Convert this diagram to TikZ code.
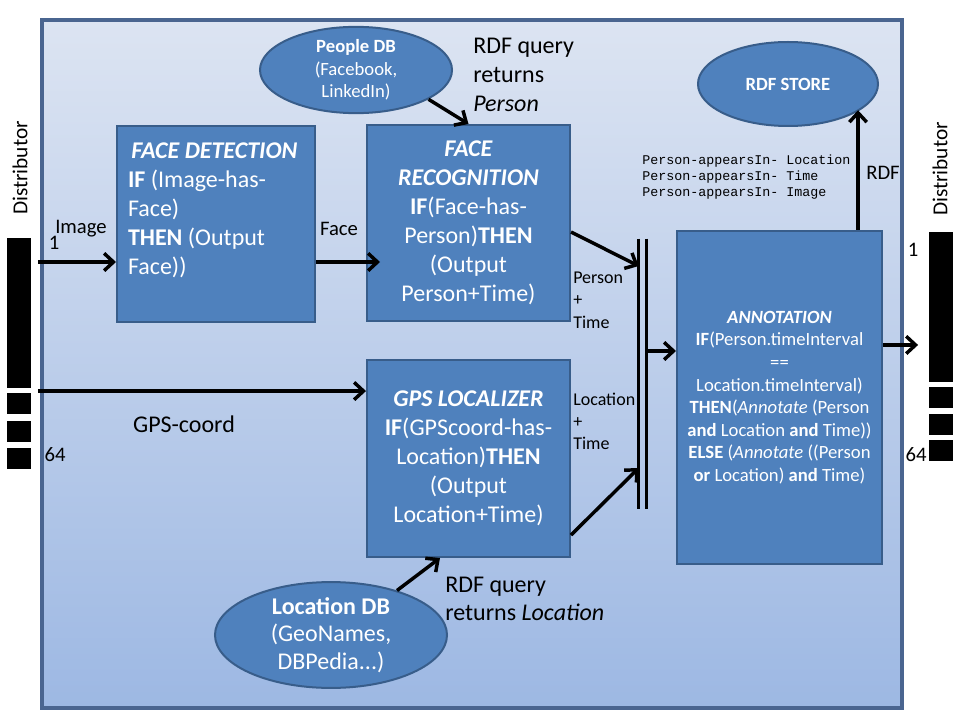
\documentclass[tikz,border=0pt]{standalone}
\usepackage{fontspec}
\setmainfont{Carlito}
\setmonofont{Liberation Mono}
\usepackage{tikz}
\usetikzlibrary{arrows.meta, shapes.geometric, positioning, calc}
\usepackage{xcolor}
\definecolor{jpanel}{HTML}{4A6590}
\definecolor{jpaneltop}{HTML}{DCE4F2}
\definecolor{jpanelbot}{HTML}{9DB8E3}
\definecolor{jbox}{HTML}{4F81BD}
\definecolor{jboxline}{HTML}{385D8A}
\tikzset{
procbox/.style = {%
    rectangle, fill=jbox, draw=jboxline, line width=1.5pt,
    inner sep=0pt, text=white, align=center,
    font=\fontsize{18}{21.75}\selectfont},
dbnode/.style = {%
    ellipse, fill=jbox, draw=jboxline, line width=1.5pt,
    inner sep=0pt, text=white, align=center},
bar/.style = {%
    rectangle, fill=black, inner sep=0pt, minimum width=18pt},
lbl/.style = {inner sep=0pt, font=\fontsize{15.5}{18}\selectfont}
}

\begin{document}
\begin{tikzpicture}[x=0.75pt, y=-0.75pt,
        flow/.style = {draw, line width=2.6pt, -{Straight Barb[length=7pt,width=13pt]}}
    ]
        % Page and background panel
        \useasboundingbox (0,0) rectangle (960,720);
        \fill[white] (0,0) rectangle (960,720);
        \draw[jpanel, line width=2.5pt, top color=jpaneltop, bottom color=jpanelbot]
            (42,20) rectangle (902,708);

        % Distributors (left and right)
        \node[bar, minimum height=112.5pt] (distL) at (19,313) {};
        \foreach \y/\n in {403/1, 431/2, 458/3}
            \node[bar, minimum height=15.75pt] (distL\n) at (19,\y) {};
        \node[bar, minimum height=112.5pt] (distR) at (941,307) {};
        \foreach \y/\n in {397/1, 424/2, 450/3}
            \node[bar, minimum height=15.75pt] (distR\n) at (941,\y) {};
        \node[lbl, rotate=90, font=\fontsize{16}{19}\selectfont] (distLlbl) at (20,168) {Distributor};
        \node[lbl, rotate=90, font=\fontsize{16}{19}\selectfont] (distRlbl) at (940,169) {Distributor};

        % Processing boxes
        \node[procbox, minimum width=148.5pt, minimum height=147pt] (fd) at (216,224) {};
        \node[procbox, draw=none, fill=none, align=flush left, text width=132pt] (fdtext)
            at ([yshift=10.5pt]fd.center)
            {\hfil\textbf{\textit{FACE DETECTION}}\hfil\\
             \textbf{IF} (Image-has-\\Face)\\\textbf{THEN} (Output\\Face))};
        \node[procbox, minimum width=152.25pt, minimum height=147pt] (fr) at (468.5,223)
            {\textbf{\textit{FACE}}\\\textbf{\textit{RECOGNITION}}\\\textbf{IF}(Face-has-\\
             Person)\textbf{THEN}\\(Output\\Person+Time)};
        \node[procbox, minimum width=152.25pt, minimum height=147.75pt] (gps) at (468.5,458.5)
            {\textbf{\textit{GPS LOCALIZER}}\\\textbf{IF}(GPScoord-has-\\
             Location)\textbf{THEN}\\(Output\\Location+Time)};
        \node[procbox, minimum width=153.75pt, minimum height=249.75pt,
              font=\fontsize{14}{16.9}\selectfont] (ann) at (779.5,397.5)
            {\textbf{\textit{ANNOTATION}}\\\textbf{IF}(Person.timeInterval\\==\\
             Location.timeInterval)\\\textbf{THEN}(\textit{Annotate} (Person\\
             \textbf{and} Location \textbf{and} Time))\\\textbf{ELSE} (\textit{Annotate} ((Person\\
             \textbf{or} Location) \textbf{and} Time)};

        % Databases
        \node[dbnode, minimum width=144pt, minimum height=64.5pt,
              font=\fontsize{14}{17}\selectfont] (people) at (356,70)
            {\textbf{People DB}\\(Facebook,\\LinkedIn)};
        \node[dbnode, minimum width=135pt, minimum height=63pt,
              font=\bfseries\fontsize{14}{17}\selectfont] (rdf) at (788,84) {RDF STORE};
        \node[dbnode, minimum width=174pt, minimum height=72pt,
              font=\fontsize{18}{20.5}\selectfont] (locdb) at (331,635)
            {\textbf{Location DB}\\(GeoNames,\\DBPedia...)};

        % Merge bar
        \node[minimum width=5.25pt, minimum height=202.5pt, inner sep=0pt] (mrg) at (642.5,374) {};
        \draw[line width=2.6pt] (mrg.north west) -- (mrg.south west);
        \draw[line width=2.6pt] (mrg.north east) -- (mrg.south east);

        % Labels
        \node[lbl] (imglbl) at (81,229) {Image};
        \node[lbl] (onel)   at (54,243) {1};
        \node[lbl] (sixtyl) at (55,455) {64};
        \node[lbl, font=\fontsize{18}{21}\selectfont] (gpslbl) at (184,424) {GPS-coord};
        \node[lbl] (facelbl) at (339,229) {Face};
        \node[lbl, anchor=west, align=flush left, font=\fontsize{13.5}{16.9}\selectfont] (perslbl)
            at (573,300) {Person\\+\\Time};
        \node[lbl, anchor=west, align=flush left, font=\fontsize{13.5}{16.5}\selectfont] (loclbl)
            at (573,421) {Location\\+\\Time};
        \node[lbl, anchor=west, align=flush left, font=\fontsize{18}{21.5}\selectfont] (qpers)
            at (473,75) {RDF query\\returns\\\textit{Person}};
        \node[lbl, anchor=west, align=flush left, font=\fontsize{18}{21}\selectfont] (qloc)
            at (445,599) {RDF query\\returns \textit{Location}};
        \node[lbl, anchor=west, align=flush left, font=\ttfamily\fontsize{10}{12}\selectfont] (triples)
            at (642,177) {Person-appearsIn- Location\\Person-appearsIn- Time\\Person-appearsIn- Image};
        \node[lbl] (rdflbl) at (883,173) {RDF};
        \node[lbl] (oner)   at (913,250) {1};
        \node[lbl] (sixtyr) at (916,455) {64};

        % Connectors
        \coordinate (fdin) at ([yshift=-28.5pt]fd.west);
        \draw[flow, shorten <=5pt] (fdin -| distL.east) -- (fdin);
        \coordinate (frin) at ($(fdin -| fr.west)+(14,0)$);
        \draw[flow] (fdin -| fd.east) -- (frin);
        \coordinate (gpsin) at ([yshift=50.6pt]gps.west);
        \draw[flow, shorten <=5pt] (gpsin -| distL.east) -- (gpsin);
        \draw[flow] (people.-22) -- (fr.north);
        \draw[flow] (locdb.34) -- ([xshift=-21.4pt]gps.south);
        \draw[flow] ([yshift=-6.75pt]fr.east) -- ([yshift=81pt]mrg.west);
        \draw[flow] ([yshift=-57.4pt]gps.east) -- ([yshift=-70.5pt]mrg.west);
        \coordinate (mrgout) at ([yshift=17.25pt]mrg.east);
        \draw[flow] (mrgout) -- (mrgout -| ann.west);
        \coordinate (annup) at ([xshift=58.9pt]ann.north);
        \draw[flow] (annup) -- (annup |- rdf.-20);
        \coordinate (annout) at ([yshift=39.4pt]ann.east);
        \draw[flow, shorten >=8pt] (annout) -- (annout -| distR.west);

    \end{tikzpicture}
\end{document}
